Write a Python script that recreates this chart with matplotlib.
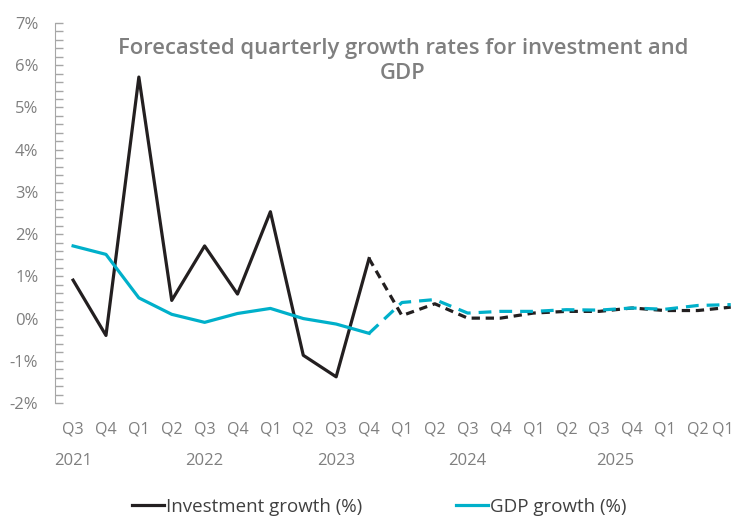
import matplotlib.pyplot as plt
from matplotlib.ticker import MultipleLocator, FuncFormatter
from matplotlib.lines import Line2D
import matplotlib.transforms as mtransforms

plt.rcParams['font.family'] = ['Open Sans', 'DejaVu Sans']

# quarter labels as shown on the axis
quarters = ['Q3', 'Q4', 'Q1', 'Q2', 'Q3', 'Q4', 'Q1', 'Q2', 'Q3', 'Q4', 'Q1',
            'Q2', 'Q3', 'Q4', 'Q1', 'Q2', 'Q3', 'Q4', 'Q1', 'Q2', 'Q1']
years = ['2021', '2022', '2023', '2024', '2025']
year_pos = [0, 4, 8, 12, 16.5]

# growth rates (%), first 10 points actual, rest forecast
investment = [0.91, -0.40, 5.72, 0.43, 1.72, 0.58, 2.53, -0.87, -1.38, 1.42,
              0.07, 0.35, 0.01, 0.01, 0.13, 0.17, 0.17, 0.25, 0.19, 0.19, 0.27]
gdp = [1.72, 1.52, 0.49, 0.10, -0.09, 0.12, 0.24, 0.00, -0.13, -0.35,
       0.38, 0.45, 0.13, 0.17, 0.17, 0.21, 0.20, 0.25, 0.22, 0.31, 0.33]
split = 9  # last actual index (Q4 2023)

black = '#231f20'
cyan = '#00b0ca'
grey = '#7f7f7f'

fig = plt.figure(figsize=(7.38, 5.16), dpi=100)
ax = fig.add_axes([55 / 738, 1 - 403 / 516, 1 - 55 / 738, (403 - 23) / 516])

x = list(range(len(quarters)))
lw = 2.3
ax.plot(x[:split + 1], investment[:split + 1], color=black, lw=lw)
ax.plot(x[split:], investment[split:], color=black, lw=lw, ls=(0, (2.6, 1.8)))
ax.plot(x[:split + 1], gdp[:split + 1], color=cyan, lw=lw)
ax.plot(x[split:], gdp[split:], color=cyan, lw=lw, ls=(0, (4, 2.5)))

ax.set_ylim(-2, 7)
ax.set_xlim(-0.55, 20.22)
ax.yaxis.set_major_locator(MultipleLocator(1))
ax.yaxis.set_minor_locator(MultipleLocator(0.2))
ax.yaxis.set_major_formatter(FuncFormatter(lambda v, p: '%d%%' % round(v)))
ax.tick_params(axis='y', which='both', direction='in', length=6, width=1,
               color='#a6a6a6', labelcolor=grey, labelsize=12, pad=12)
for s in ['top', 'right', 'bottom']:
    ax.spines[s].set_visible(False)
ax.spines['left'].set_color('#a6a6a6')

# last label sits against the right edge, so it is drawn by hand a bit to the left
ax.set_xticks(x)
ax.set_xticklabels(quarters[:-1] + [''])
ax.tick_params(axis='x', length=0, labelcolor=grey, labelsize=11.5, pad=13)
ax.annotate(quarters[-1], xy=(x[-1] - 0.25, 0), xycoords=('data', 'axes fraction'),
            xytext=(0, -13), textcoords='offset points', ha='center', va='top',
            color=grey, fontsize=11.5)

trans = mtransforms.blended_transform_factory(ax.transData, fig.transFigure)
for yr, p in zip(years, year_pos):
    ax.text(p, 1 - 461 / 516, yr, transform=trans, ha='center', va='center',
            color=grey, fontsize=12)

ax.text(0.546, 1 - 61 / 516, 'Forecasted quarterly growth rates for investment and\nGDP',
        transform=fig.transFigure, ha='center', va='center', color=grey,
        fontsize=15.8, fontweight='semibold', linespacing=1.25)

handles = [Line2D([], [], color=black, lw=lw), Line2D([], [], color=cyan, lw=lw)]
leg = fig.legend(handles, ['Investment growth (%)', 'GDP growth (%)'], loc='center',
                 bbox_to_anchor=(0.514, 1 - 507 / 516), ncol=2, frameon=False,
                 fontsize=13.5, handlelength=1.7, handletextpad=0.1, columnspacing=5.0)
for t in leg.get_texts():
    t.set_color('#404040')

fig.savefig('out.png', dpi=100)
